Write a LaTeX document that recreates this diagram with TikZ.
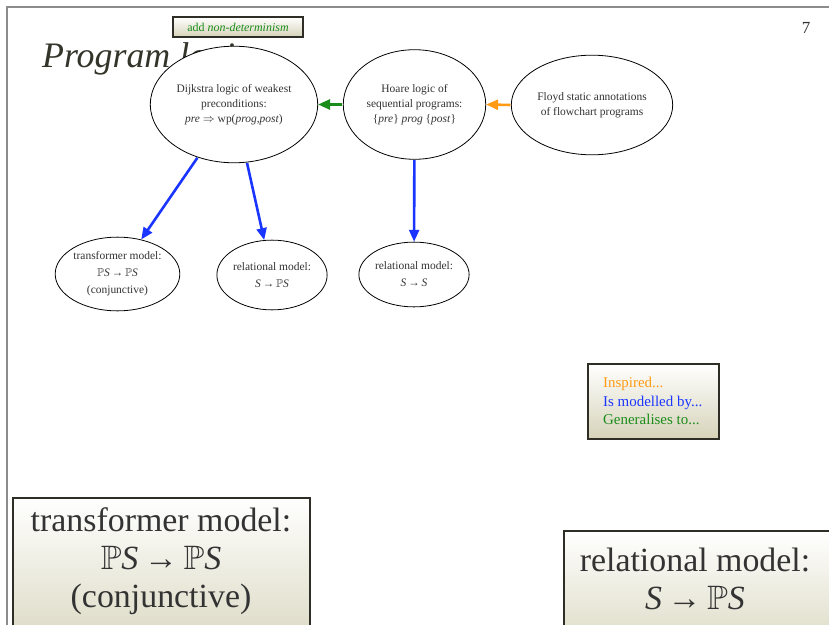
\documentclass[tikz,border=0pt]{standalone}
\usepackage{amssymb}
\usepackage{fontspec}
\setmainfont{Liberation Serif}
\usetikzlibrary{shapes.geometric,arrows.meta}

\definecolor{ink}{HTML}{333333}
\definecolor{titleink}{HTML}{34352A}
\definecolor{beige}{HTML}{D6D3B9}
\definecolor{boxedge}{HTML}{2E2E26}
\definecolor{framegray}{HTML}{8C8C8C}
\definecolor{modelblue}{HTML}{1A35FF}
\definecolor{gengreen}{HTML}{1A8C1A}
\definecolor{inspireorange}{HTML}{FF9A12}

\newcommand{\pset}{$\mathbb{P}$}

\tikzset{
  logic/.style={ellipse, draw=black, line width=0.8, fill=white, inner sep=0,
    align=center, text=ink, font=\fontsize{11.5}{15}\selectfont},
  panel/.style={draw=boxedge, line width=2, top color=white, bottom color=beige,
    inner sep=0, anchor=north west},
  bigtext/.style={align=center, text=ink, inner sep=0, font=\fontsize{34}{38}\selectfont},
  link/.style={line width=2.6, -{Triangle[length=12,width=10]}, shorten <=0.5}
}

\begin{document}
\begin{tikzpicture}[x=1bp, y=-1bp]
\useasboundingbox (0,0) rectangle (829,625);
\clip (0,0) rectangle (829,625);
\fill[white] (0,0) rectangle (829,625);

% slide frame
\draw[framegray, line width=2] (7,630) -- (7,7) -- (835,7);

% page number and title (the title sits behind the ellipses)
\node[text=ink, font=\fontsize{17}{17}\selectfont, inner sep=0] (pageno) at (806,28) {7};
\node[text=titleink, font=\fontsize{36}{36}\itshape, inner sep=0, anchor=base west]
  (title) at (42,68) {Program logic};

% note box
\node[panel, minimum width=130, minimum height=20, anchor=center, text=gengreen,
  font=\fontsize{12}{12}\selectfont] (note) at (238,27) {add \textit{non-determinism}};

% logics
\node[logic, minimum width=168, minimum height=117] (dijkstra) at (234,104.5)
  {Dijkstra logic of weakest\\preconditions:\\\textit{pre} $\Rightarrow$ wp(\textit{prog},\textit{post})};
\node[logic, minimum width=143, minimum height=110] (hoare) at (414.5,104.5)
  {Hoare logic of\\sequential programs:\\\{\textit{pre}\} \textit{prog} \{\textit{post}\}};
\node[logic, minimum width=162, minimum height=100] (floyd) at (592,105)
  {Floyd static annotations\\of flowchart programs};

% models
\node[logic, minimum width=123, minimum height=74, font=\fontsize{11.5}{17}\selectfont] (transformer) at (117.5,274)
  {transformer model:\\\pset\textit{S}\,→\,\pset\textit{S}\\(conjunctive)};
\node[logic, minimum width=110, minimum height=70, font=\fontsize{11.5}{17}\selectfont] (relpow) at (272,275)
  {relational model:\\\textit{S}\,→\,\pset\textit{S}};
\node[logic, minimum width=110, minimum height=65, font=\fontsize{11.5}{17}\selectfont] (relfun) at (414,274.5)
  {relational model:\\\textit{S}\,→\,\textit{S}};

% connectors
\draw[link, gengreen] (hoare.west) -- (dijkstra.east);
\draw[link, inspireorange] (floyd.west) -- (hoare.east);
\draw[link, modelblue] (dijkstra) -- (transformer);
\draw[link, modelblue] (dijkstra) -- (relpow);
\draw[link, modelblue] (hoare) -- (relfun);

% legend
\node[panel, minimum width=131, minimum height=75] (legend) at (587,363) {};
\node[align=left, inner sep=0, anchor=west, font=\fontsize{15}{18.5}\selectfont] (legendtext) at (603,401)
  {\textcolor{inspireorange}{Inspired...}\\\textcolor{modelblue}{Is modelled by...}\\\textcolor{gengreen}{Generalises to...}};

% enlarged model panels
\node[panel, minimum width=298, minimum height=170] (bigtransformer) at (12,497) {};
\node[bigtext] (bigtransformertext) at (161,561)
  {transformer model:\\\pset\textit{S}\,→\,\pset\textit{S}\\(conjunctive)};
\node[panel, minimum width=280, minimum height=140] (bigrel) at (563,530) {};
\node[bigtext] (bigreltext) at (695,579)
  {relational model:\\\textit{S}\,→\,\pset\textit{S}};
\end{tikzpicture}
\end{document}
